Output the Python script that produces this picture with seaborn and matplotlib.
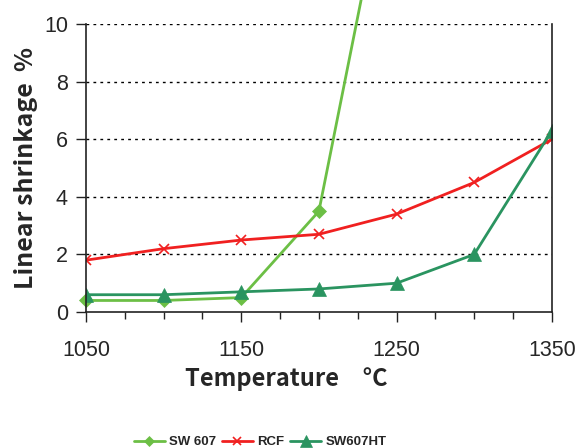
import matplotlib.pyplot as plt
import pandas as pd
import seaborn as sns

temps = [1050, 1100, 1150, 1200, 1250, 1300, 1350]
sw607 = [0.4, 0.4, 0.5, 3.5, 17.0]
rcf = [1.8, 2.2, 2.5, 2.7, 3.4, 4.5, 6.0]
sw607ht = [0.6, 0.6, 0.7, 0.8, 1.0, 2.0, 6.3]

series = ["SW 607", "RCF", "SW607HT"]
colors = {"SW 607": "#6cbf45", "RCF": "#f02020", "SW607HT": "#2a9460"}
markers = {"SW 607": "D", "RCF": "x", "SW607HT": "^"}
msize = {"SW 607": 7, "RCF": 7, "SW607HT": 10}

rows = []
for name, vals in zip(series, [sw607, rcf, sw607ht]):
    for t, v in zip(temps, vals):
        rows.append({"temp": t, "shrink": v, "series": name})
df = pd.DataFrame(rows)

sns.set_style("white")
plt.rcParams["font.family"] = ["Liberation Sans", "DejaVu Sans"]

fig = plt.figure(figsize=(5.79, 4.48), dpi=100)
ax = fig.add_axes([0.1485, 0.3036, 0.8045, 0.6424])

for name in series:
    sub = df[df["series"] == name]
    sns.lineplot(data=sub, x="temp", y="shrink", ax=ax, color=colors[name],
                 marker=markers[name], markersize=msize[name], linewidth=2,
                 markeredgecolor=colors[name], markeredgewidth=1.2 if name == "RCF" else 0.5,
                 label=name, clip_on=(name != "SW 607"))

ax.set_xlim(1050, 1350)
ax.set_ylim(0, 10)
ax.set_xticks([1050, 1150, 1250, 1350])
ax.set_xticks(range(1050, 1351, 25), minor=True)
ax.set_yticks([0, 2, 4, 6, 8, 10])
ax.tick_params(axis="both", which="major", labelsize=15.5, direction="out",
               length=7, width=1, color="#222222", left=True, bottom=True)
ax.tick_params(axis="x", which="minor", direction="out", length=5, width=1,
               color="#222222", bottom=True)
ax.tick_params(axis="x", pad=13)
ax.tick_params(axis="y", pad=6)
for y in [2, 4, 6, 8, 10]:
    ax.axhline(y, color="black", linestyle=(0, (2, 3)), linewidth=1, zorder=0)
for side in ["left", "bottom", "right"]:
    ax.spines[side].set_color("#222222")
    ax.spines[side].set_linewidth(1.2)
ax.spines["top"].set_visible(False)

jp = ["Noto Sans CJK JP", "DejaVu Sans"]
ax.set_xlabel("Temperature　°C", fontsize=17, fontweight="bold", family=jp)
ax.xaxis.set_label_coords(0.43, -0.19)
ax.set_ylabel("Linear shrinkage  %", fontsize=18, fontweight="bold", family=jp)
ax.yaxis.set_label_coords(-0.104, 0.5)

handles, labels = ax.get_legend_handles_labels()
ax.get_legend().remove()
fig.legend(handles, labels, loc="center", bbox_to_anchor=(0.449, 0.013), ncol=3,
           frameon=False, prop={"weight": "bold", "size": 9.5}, handlelength=2.4,
           columnspacing=0.4, handletextpad=0.3, markerscale=0.8)

fig.savefig("out.png", dpi=100)
